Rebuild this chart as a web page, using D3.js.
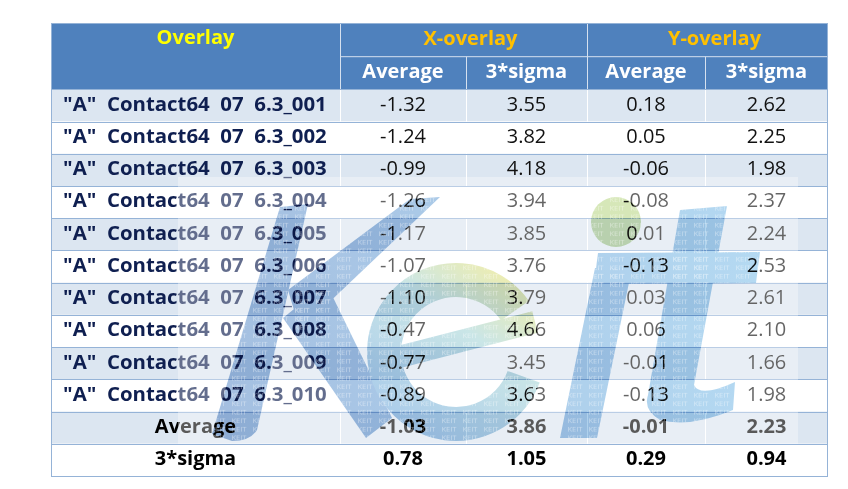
<!DOCTYPE html>
<html><head><meta charset="utf-8">
<script src="https://cdn.jsdelivr.net/npm/d3@7"></script>
<style>html,body{margin:0;padding:0;background:#fff;} svg{display:block;}</style>
</head><body><svg id="chart" width="848" height="489"></svg>
<script>
// ---- data ----
const headerTitle = "Overlay";
const groupLabels = ["X-overlay", "Y-overlay"];
const subLabels = ["Average", "3*sigma", "Average", "3*sigma"];
const rowLabels = [
  '"A"  Contact64  07  6.3_001', '"A"  Contact64  07  6.3_002', '"A"  Contact64  07  6.3_003',
  '"A"  Contact64  07  6.3_004', '"A"  Contact64  07  6.3_005', '"A"  Contact64  07  6.3_006',
  '"A"  Contact64  07  6.3_007', '"A"  Contact64  07  6.3_008', '"A"  Contact64  07  6.3_009',
  '"A"  Contact64  07  6.3_010'
];
const xAverage = [-1.32, -1.24, -0.99, -1.26, -1.17, -1.07, -1.10, -0.47, -0.77, -0.89];
const xSigma   = [3.55, 3.82, 4.18, 3.94, 3.85, 3.76, 3.79, 4.66, 3.45, 3.63];
const yAverage = [0.18, 0.05, -0.06, -0.08, 0.01, -0.13, 0.03, 0.06, -0.01, -0.13];
const ySigma   = [2.62, 2.25, 1.98, 2.37, 2.24, 2.53, 2.61, 2.10, 1.66, 1.98];
const summaryLabels = ["Average", "3*sigma"];
const summaryAverage = [-1.03, 3.86, -0.01, 2.23];
const summarySigma   = [0.78, 1.05, 0.29, 0.94];

// ---- layout ----
const svg = d3.select("#chart");
const FONT = "'Open Sans', 'Noto Sans', sans-serif";
const colWidths = [289, 126, 121, 118, 123];
const tLeft = 51;
const colEdges = colWidths.reduce((a, w) => (a.push(a[a.length - 1] + w), a), [tLeft]);
const tRight = colEdges[colEdges.length - 1];
const tTop = 23, h1 = 56.7, h2 = 89.3, tBottom = 476;
const nRows = rowLabels.length + summaryLabels.length;
const y = d3.scaleBand().domain(d3.range(nRows)).range([h2, tBottom]);
const colX = d3.scaleOrdinal().domain(d3.range(5)).range(colEdges.slice(0, 5));
const colW = i => colWidths[i];
const colC = i => colX(i) + colW(i) / 2;

const fmt = d3.formatLocale({decimal: ".", thousands: ",", grouping: [3], currency: ["", ""], minus: "-"}).format(".2f");
const bodyRows = rowLabels.map((lab, i) => ({
  label: lab, values: [xAverage[i], xSigma[i], yAverage[i], ySigma[i]], summary: false
}));
const sumRows = [summaryAverage, summarySigma].map((v, i) => ({label: summaryLabels[i], values: v, summary: true}));
const rows = bodyRows.concat(sumRows);

const HEADER = "#4F81BD", STRIPE = "#DCE6F1", LINE = "#95B3D7";

svg.append("rect").attr("x", tLeft).attr("y", tTop).attr("width", tRight - tLeft).attr("height", h2 - tTop).attr("fill", HEADER);

svg.append("g").selectAll("rect").data(rows).join("rect")
  .attr("x", tLeft).attr("y", (d, i) => y(i)).attr("width", tRight - tLeft).attr("height", y.bandwidth())
  .attr("fill", (d, i) => i % 2 === 0 ? STRIPE : "#FFFFFF");

svg.append("g").selectAll("line").data(colEdges.slice(1, 5)).join("line")
  .attr("x1", d => d + 0.5).attr("x2", d => d + 0.5).attr("y1", h2).attr("y2", tBottom)
  .attr("stroke", "#FFFFFF").attr("stroke-width", 1);

const hdr = svg.append("g").attr("stroke", "#D6E1EF").attr("stroke-width", 1);
[colEdges[1], colEdges[3]].forEach(xv => hdr.append("line").attr("x1", xv + 0.5).attr("x2", xv + 0.5).attr("y1", tTop).attr("y2", h2));
[colEdges[2], colEdges[4]].forEach(xv => hdr.append("line").attr("x1", xv + 0.5).attr("x2", xv + 0.5).attr("y1", h1).attr("y2", h2));
hdr.append("line").attr("x1", colEdges[1]).attr("x2", tRight).attr("y1", h1).attr("y2", h1);

svg.append("g").selectAll("line").data(d3.range(nRows + 1)).join("line")
  .attr("x1", tLeft).attr("x2", tRight)
  .attr("y1", i => Math.round(i < nRows ? y(i) : tBottom) + 0.5).attr("y2", i => Math.round(i < nRows ? y(i) : tBottom) + 0.5)
  .attr("stroke", LINE).attr("stroke-width", 1);

svg.append("rect").attr("x", tLeft + 0.5).attr("y", tTop + 0.5).attr("width", tRight - tLeft - 1).attr("height", tBottom - tTop)
  .attr("fill", "none").attr("stroke", LINE).attr("stroke-width", 1);

svg.append("text").attr("x", colC(0)).attr("y", 44).attr("text-anchor", "middle")
  .attr("font-family", FONT).attr("font-weight", "bold").attr("font-size", 20).attr("fill", "#FFFF00").text(headerTitle);
svg.append("g").selectAll("text").data(groupLabels).join("text")
  .attr("x", (d, i) => (colX(1 + 2 * i) + colX(2 + 2 * i) + colW(2 + 2 * i)) / 2 + 7)
  .attr("y", 45).attr("text-anchor", "middle")
  .attr("font-family", FONT).attr("font-weight", "bold").attr("font-size", 20).attr("fill", "#FFC000").text(d => d);
svg.append("g").selectAll("text").data(subLabels).join("text")
  .attr("x", (d, i) => colC(i + 1)).attr("y", 77.5).attr("text-anchor", "middle")
  .attr("font-family", FONT).attr("font-weight", "bold").attr("font-size", 20).attr("fill", "#FFFFFF").text(d => d);

const rg = svg.append("g").selectAll("g").data(rows).join("g")
  .attr("transform", (d, i) => `translate(0,${y(i) + 21.5})`);
rg.append("text")
  .attr("x", d => d.summary ? colC(0) : 63).attr("text-anchor", d => d.summary ? "middle" : "start")
  .attr("font-family", FONT).attr("font-weight", "bold").attr("font-size", d => d.summary ? 20 : 20.4)
  .attr("fill", d => d.summary ? "#000000" : "#0F1F50")
  .style("white-space", "pre").text(d => d.label);
rg.selectAll("text.v").data(d => d.values.map(v => ({v, s: d.summary}))).join("text").attr("class", "v")
  .attr("x", (d, i) => colC(i + 1)).attr("text-anchor", "middle")
  .attr("font-family", FONT).attr("font-weight", d => d.s ? "bold" : "normal").attr("font-size", 20)
  .attr("fill", d => d.s ? "#000000" : "#111111").text(d => fmt(d.v));

// ---- watermark (Keit logo) ----
const defs = svg.append("defs");
const pat = defs.append("pattern").attr("id", "keitTex").attr("patternUnits", "userSpaceOnUse")
  .attr("width", 21).attr("height", 8.5);
pat.append("text").attr("x", 0.5).attr("y", 7).attr("font-family", FONT).attr("font-size", 7.5)
  .attr("fill", "#FFFFFF").text("KEIT");
const gBlue = defs.append("linearGradient").attr("id", "gBlue").attr("gradientUnits", "userSpaceOnUse")
  .attr("x1", 200).attr("y1", 0).attr("x2", 760).attr("y2", 0);
gBlue.append("stop").attr("offset", 0).attr("stop-color", "#6B96CD");
gBlue.append("stop").attr("offset", 1).attr("stop-color", "#86C2EA");
const gE = defs.append("linearGradient").attr("id", "gE").attr("gradientUnits", "userSpaceOnUse")
  .attr("x1", 510).attr("y1", 270).attr("x2", 400).attr("y2", 420);
gE.append("stop").attr("offset", 0).attr("stop-color", "#E6E27A");
gE.append("stop").attr("offset", 0.4).attr("stop-color", "#A9D6D8");
gE.append("stop").attr("offset", 1).attr("stop-color", "#78AEDD");

const shapes = [
  {d: "M280,207 L308,204 L257,430 Q250,441 232,441 L212,434 Z"},
  {d: "M288,290 L410,199 L440,197 L300,330 Z"},
  {d: "M283,318 L326,283 L392,418 L366,438 Z"},
  {d: "M595,268 L632,268 L597,438 L560,438 Z"},
  {d: "M680,210 L727,206 L694,385 Q700,398 735,382 L733,410 Q690,428 660,420 Q643,410 648,395 Z"},
  {d: "M598,253 L760,252 L756,283 L594,284 Z"}
];
const eArc = "M515,310.7 A72,72 0 1 0 523.7,376.6";
const eBar = "M395,358 L535,322";

// mask: veil everywhere except under the letters
const mask = defs.append("mask").attr("id", "veilMask").attr("maskUnits", "userSpaceOnUse")
  .attr("x", 0).attr("y", 0).attr("width", 848).attr("height", 489);
mask.append("rect").attr("width", 848).attr("height", 489).attr("fill", "#FFFFFF");
mask.selectAll("path.s").data(shapes).join("path").attr("class", "s").attr("d", d => d.d).attr("fill", "#000000");
mask.append("path").attr("d", eArc).attr("fill", "none").attr("stroke", "#000000").attr("stroke-width", 34);
mask.append("path").attr("d", eBar).attr("stroke", "#000000").attr("stroke-width", 22);
mask.append("circle").attr("cx", 616).attr("cy", 222).attr("r", 25).attr("fill", "#000000");

svg.append("rect").attr("x", 178).attr("y", 177).attr("width", 620).attr("height", 267)
  .attr("fill", "#FFFFFF").attr("opacity", 0.35).attr("mask", "url(#veilMask)");

const wm = svg.append("g").style("mix-blend-mode", "multiply").attr("opacity", 0.62);
wm.selectAll("path.s").data(shapes).join("path").attr("class", "s").attr("d", d => d.d).attr("fill", "url(#gBlue)");
wm.append("path").attr("d", eArc).attr("fill", "none").attr("stroke", "url(#gE)").attr("stroke-width", 34);
wm.append("path").attr("d", eBar).attr("stroke", "url(#gE)").attr("stroke-width", 22);
wm.append("circle").attr("cx", 616).attr("cy", 222).attr("r", 25).attr("fill", "#BCD98C");

const tex = svg.append("g").attr("opacity", 0.45);
tex.selectAll("path").data(shapes).join("path").attr("d", d => d.d).attr("fill", "url(#keitTex)");
tex.append("path").attr("d", eArc).attr("fill", "none").attr("stroke", "url(#keitTex)").attr("stroke-width", 34);
tex.append("path").attr("d", eBar).attr("stroke", "url(#keitTex)").attr("stroke-width", 22);
tex.append("circle").attr("cx", 616).attr("cy", 222).attr("r", 25).attr("fill", "url(#keitTex)");
</script></body></html>
